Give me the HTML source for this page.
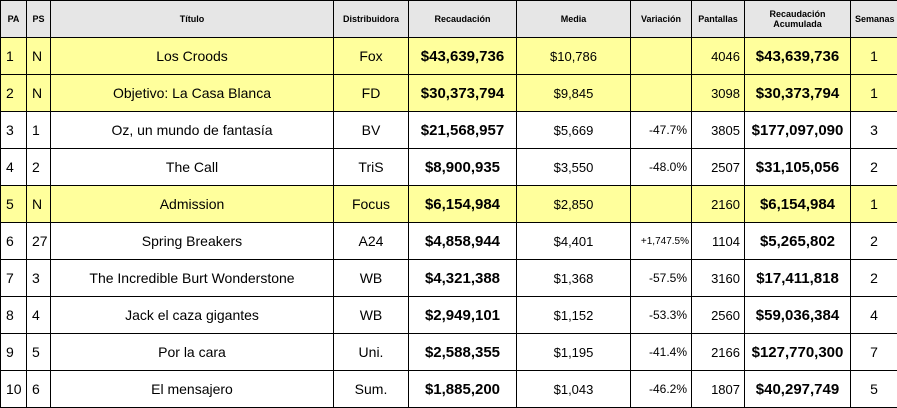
<!DOCTYPE html>
<html><head><style>
body{margin:0;background:#fff;}
table{border-collapse:collapse;position:absolute;left:0;top:0;width:897px;table-layout:fixed;font-family:"Liberation Sans",Arial,sans-serif;}
td,th{border:1px solid #000;height:36px;padding:0 4px;font-size:14px;text-align:center;white-space:nowrap;overflow:hidden;}
th{background:#e6e6e6;font-size:9px;font-weight:bold;line-height:10px;}
tr.y td{background:#ffff9c;}
td.l{text-align:left;padding-left:5px;}
td.r{text-align:right;}
td.b{font-weight:bold;font-size:15px;}
td.s{font-size:13px;}
td.w{font-size:14px;}
td.v{font-size:12px;text-align:right;}
</style></head><body>
<table>
<colgroup><col style="width:26px"><col style="width:24px"><col style="width:283px"><col style="width:75px"><col style="width:108px"><col style="width:114px"><col style="width:61px"><col style="width:53px"><col style="width:106px"><col style="width:47px"></colgroup>
<tr><th>PA</th><th>PS</th><th>Título</th><th>Distribuidora</th><th>Recaudación</th><th>Media</th><th>Variación</th><th>Pantallas</th><th>Recaudación<br>Acumulada</th><th>Semanas</th></tr>
<tr class="y"><td class="l">1</td><td class="l">N</td><td>Los Croods</td><td>Fox</td><td class="b">$43,639,736</td><td class="s">$10,786</td><td class="v"></td><td class="s r">4046</td><td class="b">$43,639,736</td><td class="w">1</td></tr>
<tr class="y"><td class="l">2</td><td class="l">N</td><td>Objetivo: La Casa Blanca</td><td>FD</td><td class="b">$30,373,794</td><td class="s">$9,845</td><td class="v"></td><td class="s r">3098</td><td class="b">$30,373,794</td><td class="w">1</td></tr>
<tr><td class="l">3</td><td class="l">1</td><td>Oz, un mundo de fantasía</td><td>BV</td><td class="b">$21,568,957</td><td class="s">$5,669</td><td class="v">-47.7%</td><td class="s r">3805</td><td class="b">$177,097,090</td><td class="w">3</td></tr>
<tr><td class="l">4</td><td class="l">2</td><td>The Call</td><td>TriS</td><td class="b">$8,900,935</td><td class="s">$3,550</td><td class="v">-48.0%</td><td class="s r">2507</td><td class="b">$31,105,056</td><td class="w">2</td></tr>
<tr class="y"><td class="l">5</td><td class="l">N</td><td>Admission</td><td>Focus</td><td class="b">$6,154,984</td><td class="s">$2,850</td><td class="v"></td><td class="s r">2160</td><td class="b">$6,154,984</td><td class="w">1</td></tr>
<tr><td class="l">6</td><td class="l">27</td><td>Spring Breakers</td><td>A24</td><td class="b">$4,858,944</td><td class="s">$4,401</td><td class="v" style="font-size:10px;padding:0 2px">+1,747.5%</td><td class="s r">1104</td><td class="b">$5,265,802</td><td class="w">2</td></tr>
<tr><td class="l">7</td><td class="l">3</td><td>The Incredible Burt Wonderstone</td><td>WB</td><td class="b">$4,321,388</td><td class="s">$1,368</td><td class="v">-57.5%</td><td class="s r">3160</td><td class="b">$17,411,818</td><td class="w">2</td></tr>
<tr><td class="l">8</td><td class="l">4</td><td>Jack el caza gigantes</td><td>WB</td><td class="b">$2,949,101</td><td class="s">$1,152</td><td class="v">-53.3%</td><td class="s r">2560</td><td class="b">$59,036,384</td><td class="w">4</td></tr>
<tr><td class="l">9</td><td class="l">5</td><td>Por la cara</td><td>Uni.</td><td class="b">$2,588,355</td><td class="s">$1,195</td><td class="v">-41.4%</td><td class="s r">2166</td><td class="b">$127,770,300</td><td class="w">7</td></tr>
<tr><td class="l">10</td><td class="l">6</td><td>El mensajero</td><td>Sum.</td><td class="b">$1,885,200</td><td class="s">$1,043</td><td class="v">-46.2%</td><td class="s r">1807</td><td class="b">$40,297,749</td><td class="w">5</td></tr>
</table>
</body></html>
